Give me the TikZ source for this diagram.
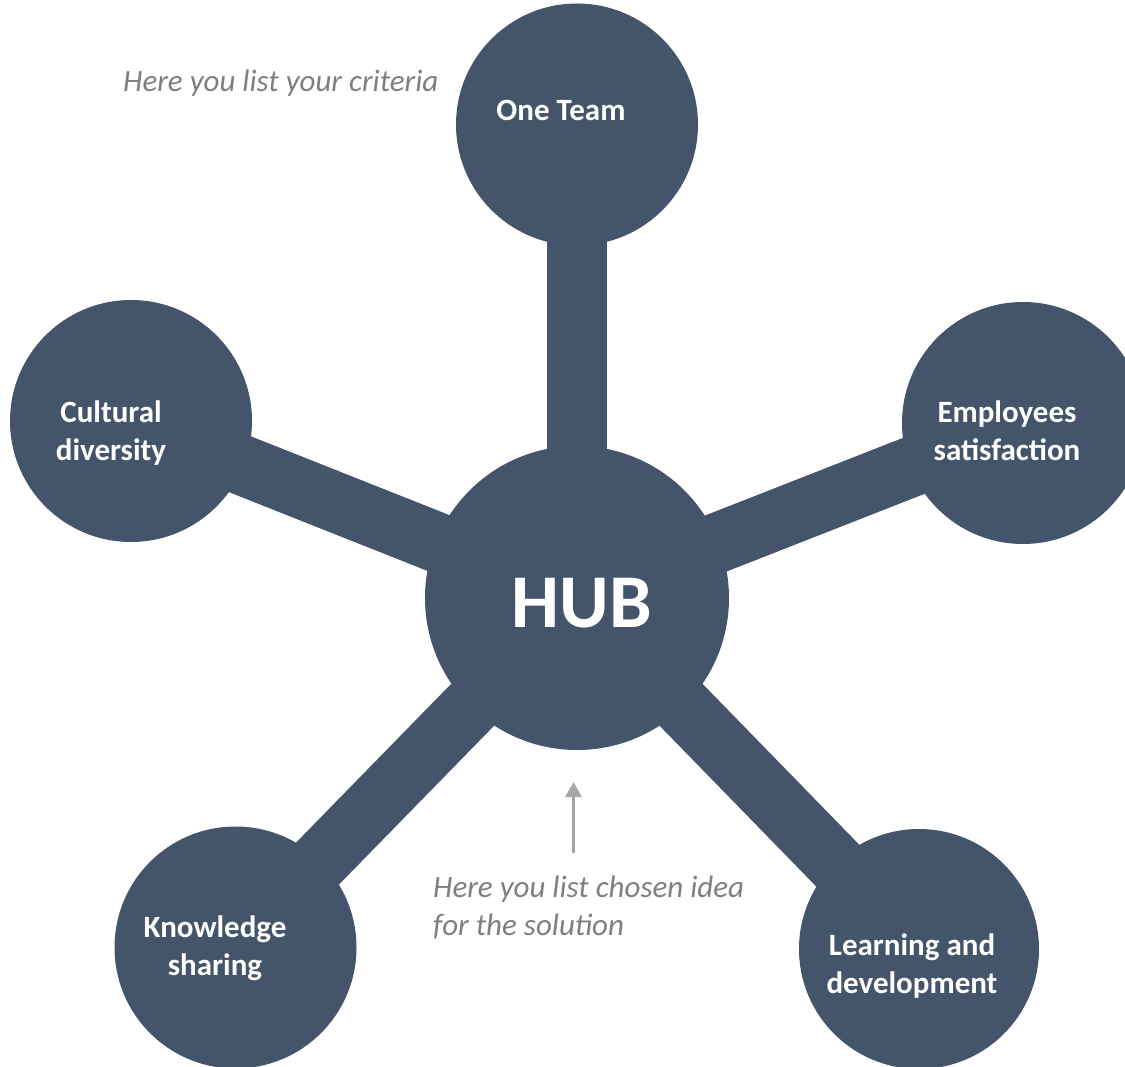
\documentclass[tikz,border=0pt]{standalone}
\usepackage{fontspec}
\setmainfont{Carlito}
\usetikzlibrary{arrows.meta}
\definecolor{hubblue}{HTML}{44546A}
\definecolor{notegray}{HTML}{7F7F7F}
\definecolor{arrowgray}{HTML}{A6A6A6}
\tikzset{
  disc/.style={circle, fill=hubblue, draw=none, inner sep=0pt, minimum size=#1},
  bar/.style={draw=hubblue, line width=60pt, line cap=butt},
  lbl/.style={text=white, font=\fontsize{31}{38}\selectfont\bfseries, align=center, inner sep=0pt, anchor=base},
  note/.style={text=notegray, font=\fontsize{31}{38}\selectfont\itshape, align=left, inner sep=0pt, anchor=base west},
}
\begin{document}
\begin{tikzpicture}[x=1pt, y=-1pt]
\useasboundingbox (0,0) rectangle (1125,1067);
% circles positions
\coordinate (hubc) at (577,598);
\coordinate (onec) at (577,124.5);
\coordinate (culc) at (131,421);
\coordinate (empc) at (1023,423);
\coordinate (knoc) at (235.5,947.5);
\coordinate (lrnc) at (919,949);
% connectors
\draw[bar] (hubc) -- (onec);
\draw[bar] (hubc) -- (culc);
\draw[bar] (hubc) -- (empc);
\draw[bar] (hubc) -- (knoc);
\draw[bar] (hubc) -- (lrnc);
% discs
\node[disc=304pt] (hub) at (hubc) {};
\node[disc=242pt] (one) at (onec) {};
\node[disc=242pt] (cul) at (culc) {};
\node[disc=242pt] (emp) at (empc) {};
\node[disc=242pt] (kno) at (knoc) {};
\node[disc=240pt] (lrn) at (lrnc) {};
% labels (base anchor = last line)
\node[lbl, font=\fontsize{76}{80}\selectfont\bfseries] (hubt) at (582,627) {HUB};
\node[lbl] (onet) at (561,121) {One Team};
\node[lbl] (cult) at (111,460) {Cultural\\diversity};
\node[lbl] (empt) at (1007,460) {Employees\\satisfaction};
\node[lbl] (knot) at (215,975) {Knowledge\\sharing};
\node[lbl] (lrnt) at (912,993) {Learning and\\development};
% notes
\node[note] (crit) at (123,92) {Here you list your criteria};
\node[note] (idea) at (433,935) {Here you list chosen idea\\for the solution};
% arrow
\coordinate (arrs) at (573.5,853);
\coordinate (arre) at (573.5,782);
\draw[arrowgray, line width=2.5pt, -{Triangle[length=15pt, width=16pt]}] (arrs) -- (arre);
\end{tikzpicture}
\end{document}
